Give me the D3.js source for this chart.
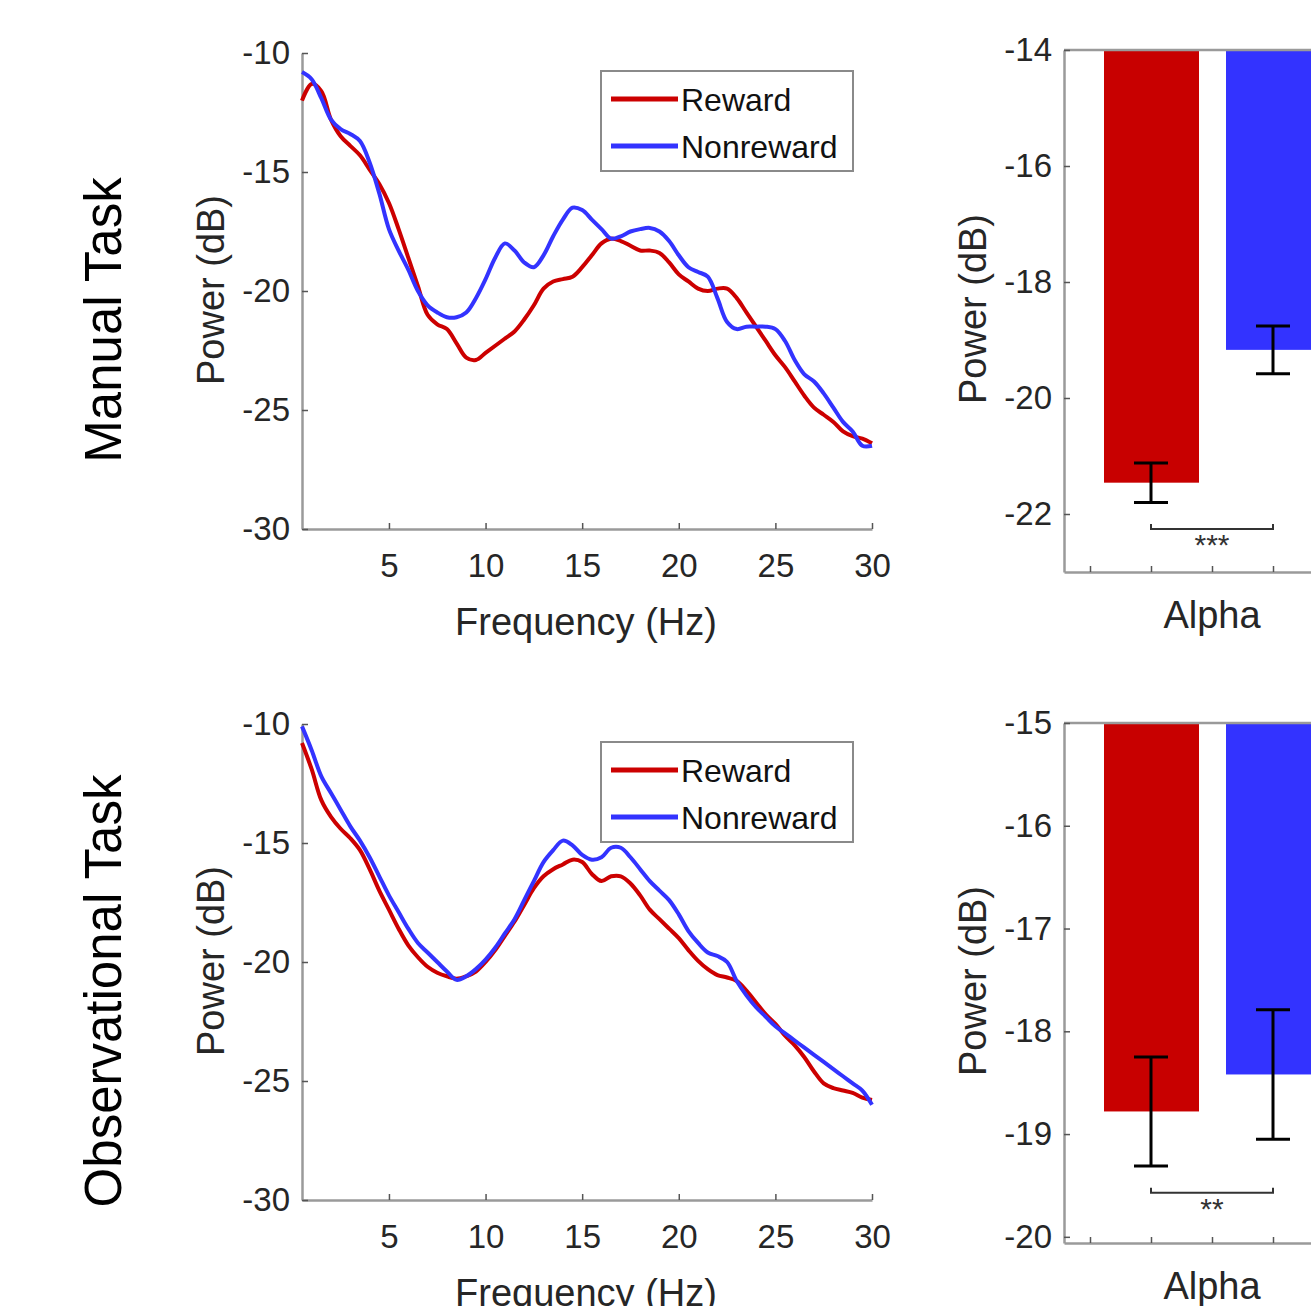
<!DOCTYPE html>
<meta charset="utf-8">
<style>
body { margin: 0; background: #fff; }
svg { font-family: "Liberation Sans", Arial, sans-serif; }
.axis path, .axis line { fill: none; stroke: #9a9a9a; stroke-width: 2.5; }
.axis text { fill: #262626; font-size: 33px; }
.axis .tick line { stroke: #555; stroke-width: 1.5; }
.lbl { fill: #262626; font-size: 38px; }
</style>
<body>
<script src="https://d3js.org/d3.v7.min.js"></script>
<div id="draw"></div>
<script>

// frequency grid (Hz), 0.5 Hz steps
var freqs = d3.range(0.5, 30.01, 0.5);

// Manual task spectra (dB)
var manualReward = [-12.0,-11.3,-11.6,-12.8,-13.5,-13.9,-14.3,-14.9,-15.5,-16.3,
  -17.4,-18.6,-19.8,-21.0,-21.4,-21.6,-22.2,-22.8,-22.9,-22.6,
  -22.3,-22.0,-21.7,-21.2,-20.6,-19.9,-19.6,-19.5,-19.4,-19.0,
  -18.5,-18.0,-17.8,-17.9,-18.1,-18.3,-18.3,-18.4,-18.8,-19.3,
  -19.6,-19.9,-20.0,-19.9,-19.9,-20.3,-20.9,-21.5,-22.1,-22.7,
  -23.2,-23.8,-24.4,-24.9,-25.2,-25.5,-25.9,-26.1,-26.2,-26.4];
var manualNonreward = [-10.8,-11.1,-11.9,-12.8,-13.2,-13.4,-13.7,-14.6,-15.9,-17.4,
  -18.3,-19.1,-20.0,-20.6,-20.9,-21.1,-21.1,-20.9,-20.3,-19.5,
  -18.6,-18.0,-18.3,-18.8,-19.0,-18.5,-17.7,-17.0,-16.5,-16.6,
  -17.0,-17.4,-17.8,-17.7,-17.5,-17.4,-17.35,-17.5,-17.9,-18.5,
  -19.0,-19.2,-19.4,-20.3,-21.3,-21.6,-21.5,-21.5,-21.5,-21.6,
  -22.1,-22.9,-23.5,-23.8,-24.3,-24.9,-25.5,-25.9,-26.5,-26.5];

// Observational task spectra (dB)
var obsReward = [-10.8,-11.9,-13.2,-13.9,-14.4,-14.8,-15.3,-16.1,-17.0,-17.8,
  -18.6,-19.3,-19.8,-20.2,-20.45,-20.6,-20.7,-20.6,-20.4,-20.0,
  -19.5,-18.9,-18.3,-17.6,-16.9,-16.4,-16.1,-15.9,-15.7,-15.8,
  -16.3,-16.6,-16.4,-16.4,-16.7,-17.2,-17.8,-18.2,-18.6,-19.0,
  -19.5,-19.95,-20.3,-20.55,-20.65,-20.8,-21.2,-21.7,-22.2,-22.6,
  -23.1,-23.5,-24.0,-24.6,-25.1,-25.3,-25.4,-25.5,-25.7,-25.8];
var obsNonreward = [-10.1,-11.1,-12.2,-12.9,-13.6,-14.3,-14.9,-15.6,-16.4,-17.2,
  -17.9,-18.6,-19.2,-19.6,-20.0,-20.4,-20.75,-20.6,-20.3,-19.9,
  -19.4,-18.8,-18.2,-17.4,-16.6,-15.8,-15.3,-14.9,-15.1,-15.5,
  -15.7,-15.6,-15.2,-15.2,-15.6,-16.1,-16.6,-17.0,-17.4,-18.0,
  -18.7,-19.2,-19.6,-19.75,-20.0,-20.8,-21.4,-21.9,-22.3,-22.7,
  -23.0,-23.3,-23.6,-23.9,-24.2,-24.5,-24.8,-25.1,-25.4,-26.0];

// alpha band means and SEM (dB): [reward, nonreward]
var manualAlpha = [-21.46, -19.17];
var manualAlphaErr = [0.34, 0.41];
var obsAlpha = [-18.78, -18.42];
var obsAlphaErr = [0.53, 0.63];
var sigLevel = [-22.26, -19.57];
var sigText = ["***", "**"];

var seriesNames = ["Reward", "Nonreward"];
var taskNames = ["Manual Task", "Observational Task"];
var lineColors = ["#cc0000", "#3333ff"];
var barColors = ["#c80000", "#3333ff"];

var fmt = function(d) { return String(d); };

var svg = d3.select("#draw").append("svg")
    .attr("width", 1311)
    .attr("height", 1306);

svg.append("rect").attr("width", 1311).attr("height", 1306).attr("fill", "#fff");

var x = d3.scaleLinear().domain([0.5, 30]).range([302, 872]);

function spectrum(top, reward, nonreward, task) {
  var y = d3.scaleLinear().domain([-30, -10]).range([top + 476, top]);
  var g = svg.append("g");

  g.append("g")
      .attr("class", "axis")
      .attr("transform", "translate(0," + (top + 476) + ")")
      .call(d3.axisBottom(x).tickValues([5, 10, 15, 20, 25, 30]).tickFormat(fmt).tickSizeInner(-6).tickSizeOuter(0).tickPadding(25))
    .selectAll("text").attr("dy", "0.71em");

  g.append("g")
      .attr("class", "axis")
      .attr("transform", "translate(302,0)")
      .call(d3.axisLeft(y).tickValues([-30, -25, -20, -15, -10]).tickFormat(fmt).tickSizeInner(-6).tickSizeOuter(0).tickPadding(12));

  var line = d3.line()
      .x(function(d, i) { return x(freqs[i]); })
      .y(function(d) { return y(d); })
      .curve(d3.curveCatmullRom);

  [reward, nonreward].forEach(function(s, k) {
    g.append("path")
        .datum(s)
        .attr("d", line)
        .attr("fill", "none")
        .attr("stroke", lineColors[k])
        .attr("stroke-width", 4)
        .attr("stroke-linejoin", "round");
  });

  g.append("text")
      .attr("class", "lbl")
      .attr("x", 586)
      .attr("y", top + 582)
      .attr("text-anchor", "middle")
      .text("Frequency (Hz)");

  g.append("text")
      .attr("class", "lbl")
      .attr("transform", "translate(224," + (top + 237) + ") rotate(-90)")
      .attr("text-anchor", "middle")
      .text("Power (dB)");

  g.append("text")
      .attr("transform", "translate(121," + (top + 267) + ") rotate(-90)")
      .attr("text-anchor", "middle")
      .attr("font-size", 51)
      .attr("fill", "#000")
      .text(task);

  // legend
  var lg = g.append("g").attr("transform", "translate(601," + (top + 18) + ")");
  lg.append("rect")
      .attr("width", 252).attr("height", 100)
      .attr("fill", "#fff").attr("stroke", "#8a8a8a").attr("stroke-width", 2);
  seriesNames.forEach(function(n, k) {
    lg.append("line")
        .attr("x1", 10).attr("x2", 77)
        .attr("y1", 28 + k * 47).attr("y2", 28 + k * 47)
        .attr("stroke", lineColors[k]).attr("stroke-width", 5);
    lg.append("text")
        .attr("x", 80).attr("y", 28 + k * 47 + 12)
        .attr("font-size", 32).attr("fill", "#111")
        .text(n);
  });
}

function alphaBars(top, bottom, domain, ticks, means, errs, sig, star) {
  var y = d3.scaleLinear().domain(domain).range([bottom, top]);
  var xb = d3.scaleLinear().domain([1, 2]).range([1151, 1273]);
  var xAxisScale = xb.copy().domain([xb.invert(1064), 4]).range([1064, xb(4)]);
  var g = svg.append("g");

  g.selectAll(".bar")
      .data(means)
      .enter().append("rect")
      .attr("x", function(d, i) { return xb(i + 1) - 47; })
      .attr("width", 95)
      .attr("y", y(domain[1]))
      .attr("height", function(d) { return y(d) - y(domain[1]); })
      .attr("fill", function(d, i) { return barColors[i]; });

  g.append("g")
      .attr("class", "axis")
      .attr("transform", "translate(0," + bottom + ")")
      .call(d3.axisBottom(xAxisScale).tickValues([0.5, 1, 1.5, 2, 2.5, 3]).tickSizeInner(-6).tickSizeOuter(0).tickFormat(""));
  g.append("line")
      .attr("x1", 1064).attr("x2", 1400)
      .attr("y1", top).attr("y2", top)
      .attr("stroke", "#9a9a9a").attr("stroke-width", 2.5);
  g.append("g")
      .attr("class", "axis")
      .attr("transform", "translate(1064,0)")
      .call(d3.axisLeft(y).tickValues(ticks).tickFormat(fmt).tickSizeInner(-6).tickSizeOuter(0).tickPadding(12));

  // error bars
  means.forEach(function(m, i) {
    var cx = xb(i + 1);
    var eg = g.append("g").attr("stroke", "#000").attr("stroke-width", 3);
    eg.append("line").attr("x1", cx).attr("x2", cx).attr("y1", y(m + errs[i])).attr("y2", y(m - errs[i]));
    eg.append("line").attr("x1", cx - 17).attr("x2", cx + 17).attr("y1", y(m + errs[i])).attr("y2", y(m + errs[i]));
    eg.append("line").attr("x1", cx - 17).attr("x2", cx + 17).attr("y1", y(m - errs[i])).attr("y2", y(m - errs[i]));
  });

  // significance bracket
  var sy = y(sig);
  g.append("path")
      .attr("d", "M" + xb(1) + "," + (sy - 5) + "V" + sy + "H" + xb(2) + "V" + (sy - 5))
      .attr("fill", "none").attr("stroke", "#333").attr("stroke-width", 2);
  g.append("text")
      .attr("x", xb(1.5)).attr("y", sy + 26)
      .attr("text-anchor", "middle")
      .attr("font-size", 30).attr("fill", "#333")
      .text(star);

  g.append("text")
      .attr("class", "lbl")
      .attr("x", xb(1.5))
      .attr("y", bottom + 56)
      .attr("text-anchor", "middle")
      .text("Alpha");

  g.append("text")
      .attr("class", "lbl")
      .attr("transform", "translate(986," + ((top + bottom) / 2 - 2) + ") rotate(-90)")
      .attr("text-anchor", "middle")
      .text("Power (dB)");
}

spectrum(53, manualReward, manualNonreward, taskNames[0]);
spectrum(724, obsReward, obsNonreward, taskNames[1]);

alphaBars(50, 572, [-23, -14], [-22, -20, -18, -16, -14], manualAlpha, manualAlphaErr, sigLevel[0], sigText[0]);
alphaBars(723, 1243, [-20.06, -15], [-20, -19, -18, -17, -16, -15], obsAlpha, obsAlphaErr, sigLevel[1], sigText[1]);

</script>
